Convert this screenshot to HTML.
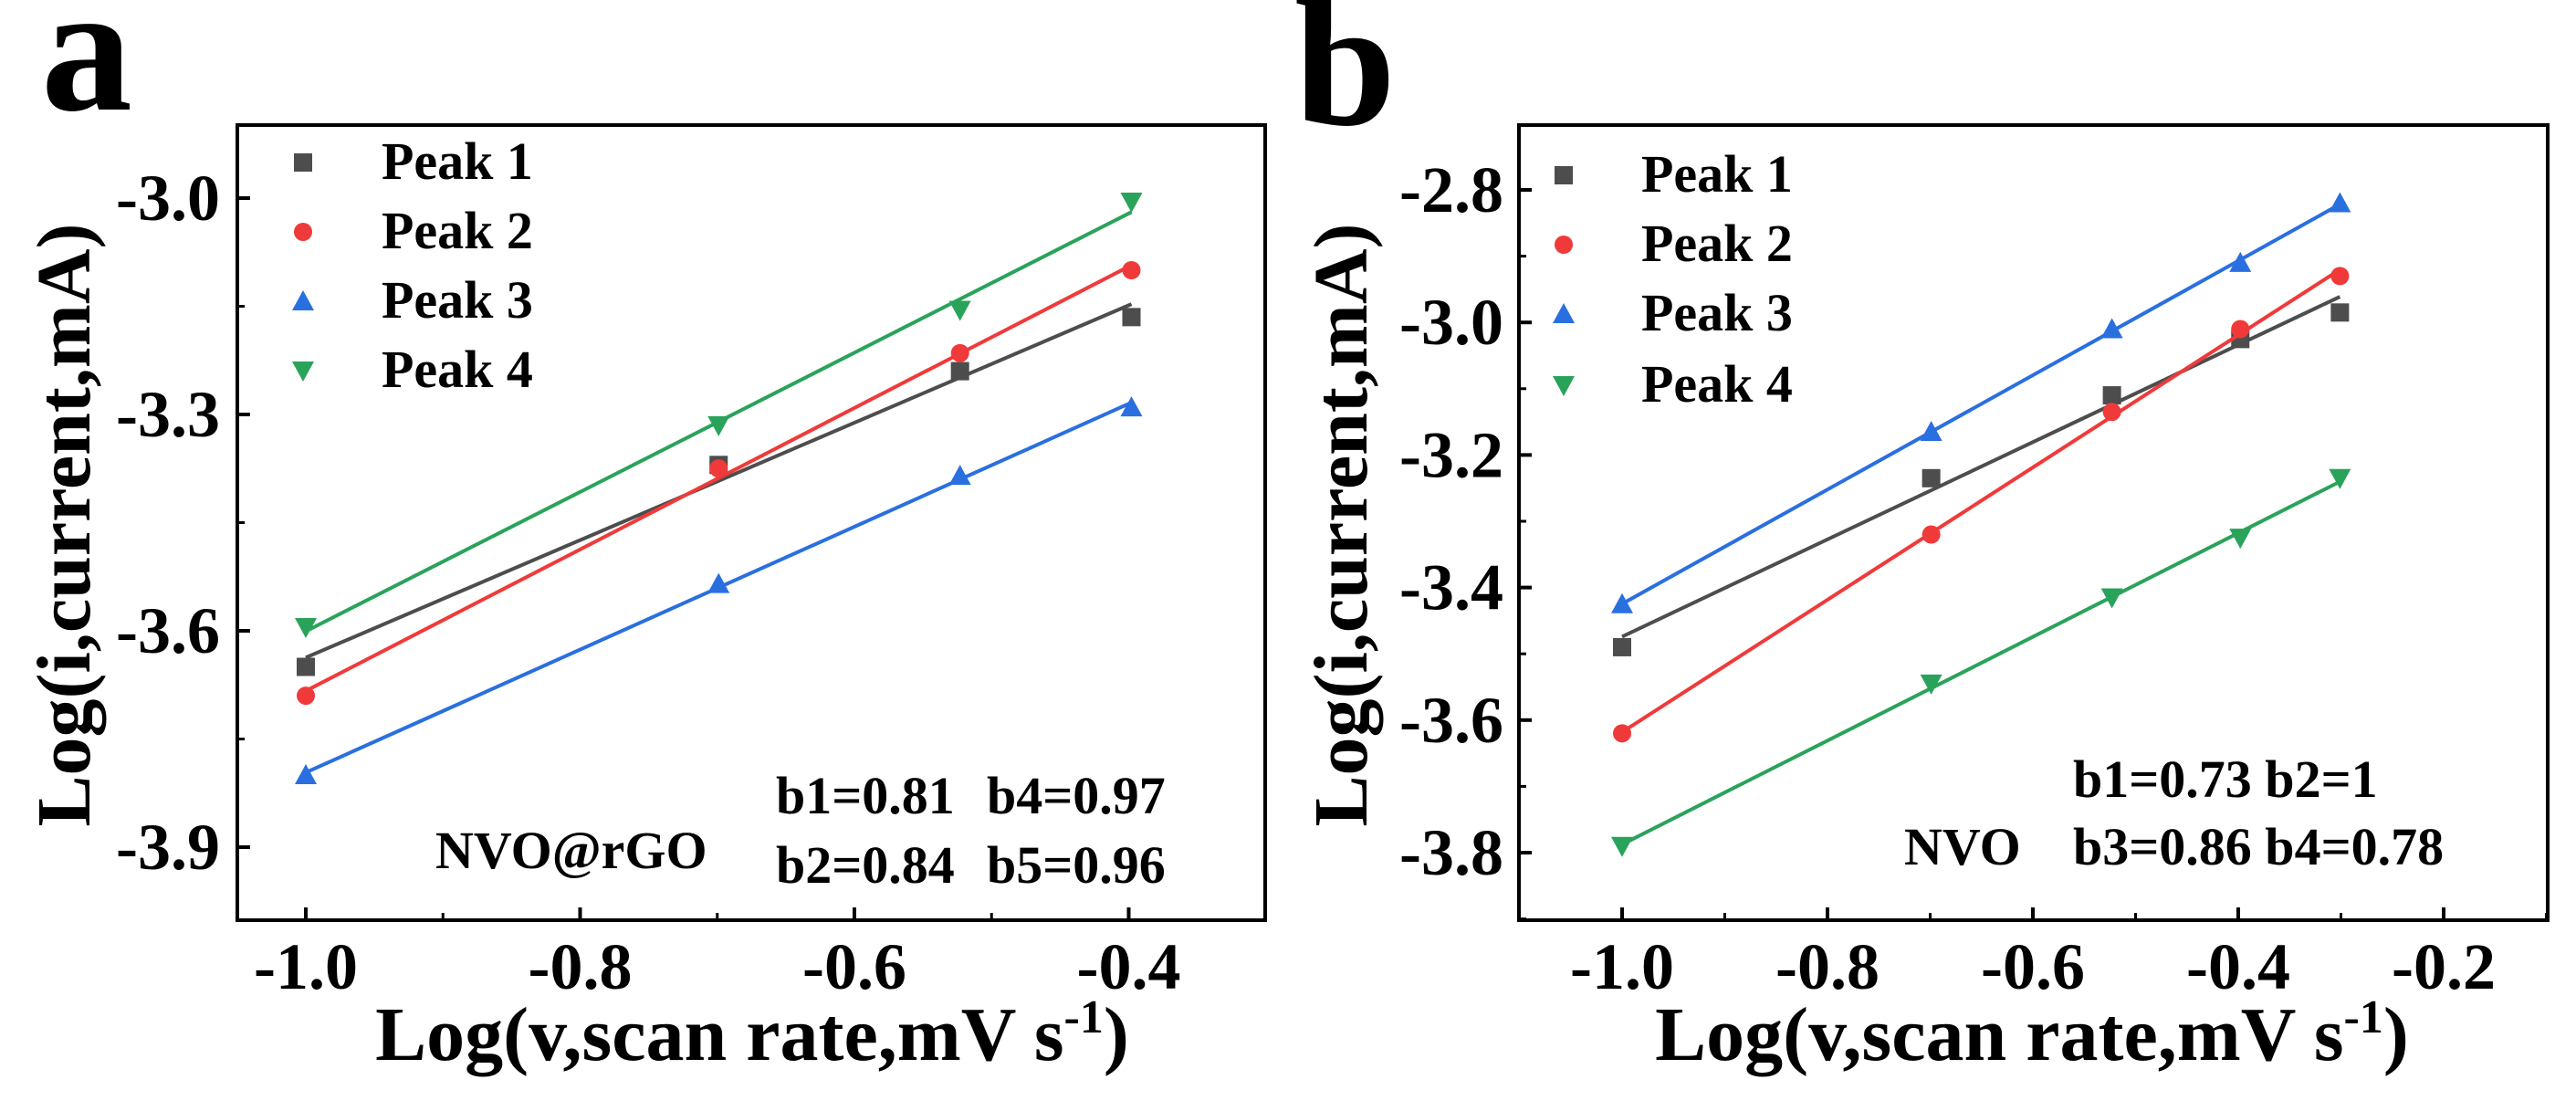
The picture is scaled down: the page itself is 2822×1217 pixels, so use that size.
<!DOCTYPE html>
<html><head><meta charset="utf-8"><style>
html,body{margin:0;padding:0;background:#fff}
svg{display:block}
text{font-family:"Liberation Serif","Times New Roman",serif;font-weight:bold;fill:#000}
</style></head><body>
<svg id="fig" width="2822" height="1217" viewBox="0 0 2822 1217" xmlns="http://www.w3.org/2000/svg"></svg>
<script>
const NS="http://www.w3.org/2000/svg";
const colors=["#4d4d4d","#f03a3a","#2a6fe0","#2aa35a"];
const seriesNames=["Peak 1","Peak 2","Peak 3","Peak 4"];
// Panel a data
const xA=[-1.0,-0.699,-0.523,-0.398];
const a1=[-3.65,-3.37,-3.24,-3.165];
const a2=[-3.69,-3.375,-3.215,-3.10];
const a3=[-3.80,-3.535,-3.385,-3.29];
const a4=[-3.595,-3.315,-3.155,-3.005];
const xTicksA=[-1.0,-0.8,-0.6,-0.4];
const yTicksA=[-3.0,-3.3,-3.6,-3.9];
// Panel b data
const xB=[-1.0,-0.699,-0.523,-0.398,-0.301];
const b1=[-3.49,-3.235,-3.11,-3.025,-2.985];
const b2=[-3.62,-3.32,-3.135,-3.01,-2.93];
const b3=[-3.425,-3.165,-3.01,-2.91,-2.82];
const b4=[-3.79,-3.545,-3.415,-3.325,-3.235];
const xTicksB=[-1.0,-0.8,-0.6,-0.4,-0.2];
const yTicksB=[-2.8,-3.0,-3.2,-3.4,-3.6,-3.8];

const svg=document.getElementById('fig');
function mk(tag,attrs,parent){const e=document.createElementNS(NS,tag);for(const k in attrs)e.setAttribute(k,attrs[k]);(parent||svg).appendChild(e);return e;}

function panel(o){
  const g=mk('g',{});
  
  
  const sx=v=>o.x0px+(v-o.x0v)*(o.x1px-o.x0px)/(o.x1v-o.x0v);
  const sy=v=>o.y0px+(v-o.y0v)*(o.y1px-o.y0px)/(o.y1v-o.y0v);
  const box=mk('rect',{x:o.L,y:o.T,width:o.R-o.L,height:o.B-o.T,fill:'none',stroke:'#000','stroke-width':4},g);
  
  
  const xs=o.xTicks; const dx=(xs[1]-xs[0])/2;
  for(let i=0;i<xs.length;i++){
    const v=xs[i];const px=sx(v);
    mk('line',{x1:px,x2:px,y1:o.B,y2:o.B-14,stroke:'#000','stroke-width':4},g);
    const t=mk('text',{x:px,y:1083,'text-anchor':'middle','font-size':72},g);
    t.textContent=v.toFixed(1);
    
    
    const mp=sx(v+dx);
    if(mp>o.L&&mp<o.R) mk('line',{x1:mp,x2:mp,y1:o.B,y2:o.B-8,stroke:'#000','stroke-width':3},g);
    if(i==0){const m2=sx(v-dx); if(m2>o.L) mk('line',{x1:m2,x2:m2,y1:o.B,y2:o.B-8,stroke:'#000','stroke-width':3},g);}
  }
  const ys=o.yTicks; const dy=(ys[1]-ys[0])/2;
  for(let i=0;i<ys.length;i++){
    const v=ys[i];const py=sy(v);
    mk('line',{x1:o.L,x2:o.L+14,y1:py,y2:py,stroke:'#000','stroke-width':4},g);
    const t=mk('text',{x:o.ytx,y:py+24,'text-anchor':'end','font-size':72},g);
    t.textContent=v.toFixed(1);
    
    
    const mp=sy(v+dy); if(mp>o.T&&mp<o.B) mk('line',{x1:o.L,x2:o.L+8,y1:mp,y2:mp,stroke:'#000','stroke-width':3},g);
    if(i==0){const m2=sy(v-dy); if(m2>o.T) mk('line',{x1:o.L,x2:o.L+8,y1:m2,y2:m2,stroke:'#000','stroke-width':3},g);}
  }
  o.series.forEach((ys_,si)=>{
    const xv=o.xv; const n=xv.length;
    const mx=xv.reduce((a,b)=>a+b)/n, my=ys_.reduce((a,b)=>a+b)/n;
    let sxy=0,sxx=0;for(let i=0;i<n;i++){sxy+=(xv[i]-mx)*(ys_[i]-my);sxx+=(xv[i]-mx)**2;}
    const k=sxy/sxx,b=my-k*mx;
    const ln=mk('line',{x1:sx(xv[0]),y1:sy(k*xv[0]+b),x2:sx(xv[n-1]),y2:sy(k*xv[n-1]+b),stroke:colors[si],'stroke-width':4},g);
    
    
    for(let i=0;i<n;i++){
      const m=marker(si,sx(xv[i]),sy(ys_[i]),g);
      
      
    }
  });
  seriesNames.forEach((nm,si)=>{
    const y=o.legY[si];
    const m=marker(si,o.legMX,y,g);
    
    
    const t=mk('text',{x:o.legTX,y:y+18,'font-size':58},g);
    t.textContent=nm;
    
    
  });
  const xt=mk('text',{x:o.xtitleX,y:1161,'text-anchor':'middle','font-size':84},g);
  xt.innerHTML='Log(v,scan rate,mV s<tspan dy="-30" font-size="52">-1</tspan><tspan dy="30">)</tspan>';
  
  
  const yt=mk('text',{x:0,y:0,'text-anchor':'middle','font-size':84,transform:`translate(${o.ytitleX},575) rotate(-90)`},g);
  yt.textContent='Log(i,current,mA)';
  
  
  const pl=mk('text',{x:o.letX,y:o.letY,'font-size':200},g);
  pl.textContent=o.letter;
  
  
  o.notes.forEach(nt=>{
    const t=mk('text',{x:nt[0],y:nt[1],'font-size':58},g);
    t.textContent=nt[2];
    
    
  });
}
function marker(si,x,y,g){
  const c=colors[si];const s=10;
  if(si==0) return mk('rect',{x:x-s,y:y-s,width:2*s,height:2*s,fill:c},g);
  if(si==1) return mk('circle',{cx:x,cy:y,r:s,fill:c},g);
  if(si==2) return mk('polygon',{points:`${x},${y-s-2} ${x+s+2},${y+s} ${x-s-2},${y+s}`,fill:c},g);
  return mk('polygon',{points:`${x},${y+s+2} ${x+s+2},${y-s} ${x-s-2},${y-s}`,fill:c},g);
}
panel({name:'panel-a',L:260,R:1386,T:137,B:1008,x0v:-1.0,x0px:335,x1v:-0.6,x1px:936,y0v:-3.0,y0px:217,y1v:-3.9,y1px:928,
  xTicks:xTicksA,yTicks:yTicksA,ytx:241,xv:xA,series:[a1,a2,a3,a4],
  legY:[178,254,330,406],legMX:332,legTX:418,xtitleX:824,ytitleX:98,letX:45,letY:120,letter:'a',
  notes:[[850,891,'b1=0.81'],[1081,891,'b4=0.97'],[850,967,'b2=0.84'],[1081,967,'b5=0.96'],[477,951,'NVO@rGO']]});
panel({name:'panel-b',L:1664,R:2791,T:137,B:1008,x0v:-1.0,x0px:1777,x1v:-0.2,x1px:2677,y0v:-2.8,y0px:208,y1v:-3.8,y1px:934,
  xTicks:xTicksB,yTicks:yTicksB,ytx:1647,xv:xB,series:[b1,b2,b3,b4],
  legY:[192,268,344,422],legMX:1713,legTX:1798,xtitleX:2226,ytitleX:1497,letX:1418,letY:136,letter:'b',
  notes:[[2271,873,'b1=0.73 b2=1'],[2086,947,'NVO'],[2271,947,'b3=0.86 b4=0.78']]});
</script>
</body></html>
